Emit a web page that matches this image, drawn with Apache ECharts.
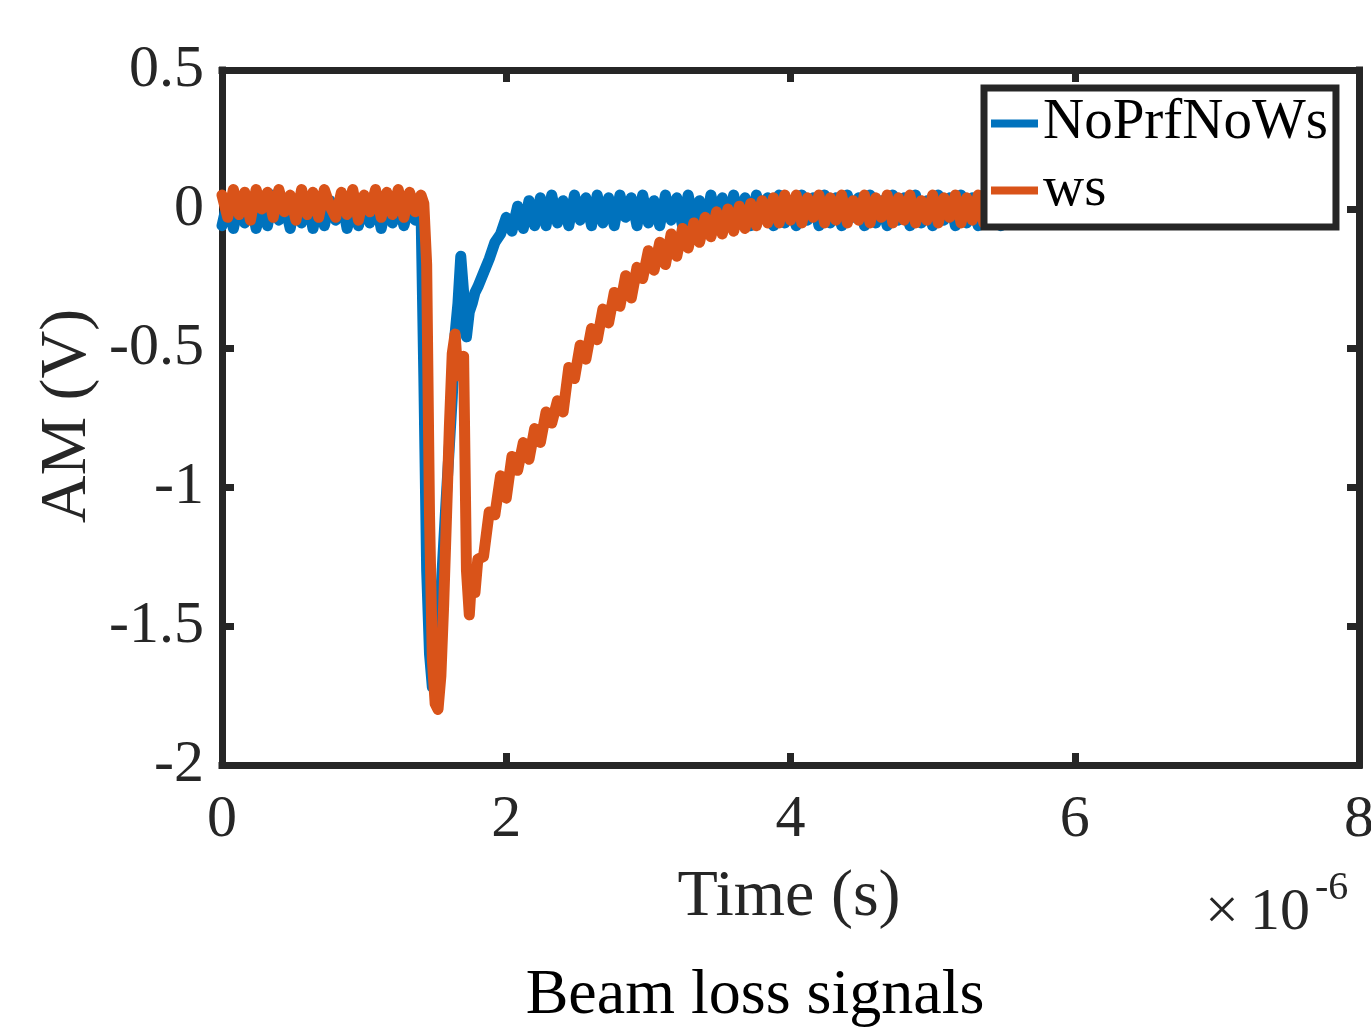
<!DOCTYPE html>
<html>
<head>
<meta charset="utf-8">
<script src="https://cdn.jsdelivr.net/npm/echarts/dist/echarts.min.js"></script>
<style>
  html, body { margin: 0; padding: 0; background: #fff; }
  #main { width: 1371px; height: 1027px; }
</style>
</head>
<body>
<div id="main"></div>
<script>
// time in units of 1e-6 s
var timeUs = [
  0, 0.04, 0.08, 0.12, 0.16, 0.2, 0.24, 0.28, 0.32, 0.36,
  0.4, 0.44, 0.48, 0.52, 0.56, 0.6, 0.64, 0.68, 0.72, 0.76,
  0.8, 0.84, 0.88, 0.92, 0.96, 1.0, 1.04, 1.08, 1.12, 1.16,
  1.2, 1.24, 1.28, 1.32, 1.36, 1.4,
  1.42, 1.44, 1.46, 1.48, 1.5, 1.52, 1.54, 1.56, 1.58, 1.6,
  1.62, 1.64, 1.66, 1.68, 1.7, 1.72, 1.74, 1.76, 1.78, 1.8,
  1.84, 1.88, 1.92, 1.96, 2.0, 2.04, 2.08, 2.12, 2.16, 2.2,
  2.24, 2.28, 2.32, 2.36, 2.4, 2.44, 2.48, 2.52, 2.56, 2.6,
  2.64, 2.68, 2.72, 2.76, 2.8, 2.84, 2.88, 2.92, 2.96, 3.0,
  3.04, 3.08, 3.12, 3.16, 3.2, 3.24, 3.28, 3.32, 3.36, 3.4,
  3.44, 3.48, 3.52, 3.56, 3.6, 3.64, 3.68, 3.72, 3.76, 3.8,
  3.84, 3.88, 3.92, 3.96, 4.0, 4.04, 4.08, 4.12, 4.16, 4.2,
  4.24, 4.28, 4.32, 4.36, 4.4, 4.44, 4.48, 4.52, 4.56, 4.6,
  4.64, 4.68, 4.72, 4.76, 4.8, 4.84, 4.88, 4.92, 4.96, 5.0,
  5.04, 5.08, 5.12, 5.16, 5.2, 5.24, 5.28, 5.32, 5.36, 5.4,
  5.44, 5.48, 5.52, 5.56, 5.6
];

// NoPrfNoWs (V)
var noPrfNoWs = [
  -0.06, 0.03, -0.07, 0.02, -0.05, 0.04, -0.07, 0.01, -0.06, 0.05,
  -0.04, 0.02, -0.07, 0.03, -0.05, 0.04, -0.07, 0.02, -0.06, 0.03,
  -0.04, 0.04, -0.07, 0.01, -0.06, 0.03, -0.05, 0.04, -0.07, 0.02,
  -0.05, 0.03, -0.06, 0.02, -0.04, 0.01,
  -0.60, -1.30, -1.60, -1.72, -1.70, -1.55, -1.38, -1.20, -1.02, -0.85,
  -0.68, -0.45, -0.34, -0.17, -0.30, -0.46, -0.37, -0.34, -0.30, -0.28,
  -0.23, -0.18, -0.12, -0.09, -0.03, -0.08, 0.01, -0.07, 0.03, -0.06,
  0.04, -0.06, 0.05, -0.05, 0.03, -0.06, 0.05, -0.04, 0.04, -0.06,
  0.05, -0.05, 0.04, -0.06, 0.05, -0.03, 0.04, -0.06, 0.05, -0.05,
  0.03, -0.06, 0.05, -0.04, 0.04, -0.06, 0.05, -0.05, 0.03, -0.06,
  0.05, -0.04, 0.04, -0.06, 0.05, -0.05, 0.04, -0.06, 0.05, -0.03,
  0.04, -0.06, 0.05, -0.05, 0.03, -0.06, 0.05, -0.04, 0.04, -0.06,
  0.05, -0.05, 0.04, -0.06, 0.05, -0.03, 0.04, -0.06, 0.05, -0.05,
  0.03, -0.06, 0.05, -0.04, 0.04, -0.06, 0.05, -0.05, 0.03, -0.06,
  0.05, -0.04, 0.04, -0.06, 0.05, -0.05, 0.04, -0.06, 0.05, -0.03,
  0.04, -0.06, 0.05, -0.05, 0.03
];

// ws (V)
var ws = [
  0.05, -0.03, 0.07, -0.02, 0.06, -0.04, 0.07, 0.00, 0.06, -0.03,
  0.07, -0.01, 0.05, -0.04, 0.07, -0.02, 0.06, -0.03, 0.07, 0.01,
  -0.03, 0.06, -0.02, 0.07, -0.04, 0.05, -0.01, 0.07, -0.03, 0.06,
  -0.02, 0.07, -0.03, 0.06, -0.01, 0.05,
  0.02, -0.20, -1.10, -1.62, -1.78, -1.80, -1.68, -1.42, -1.10, -0.78,
  -0.52, -0.45, -0.60, -0.56, -0.53, -1.30, -1.46, -1.30, -1.38, -1.26,
  -1.25, -1.09, -1.10, -0.96, -1.04, -0.89, -0.94, -0.84, -0.90, -0.79,
  -0.84, -0.73, -0.77, -0.69, -0.73, -0.57, -0.61, -0.49, -0.54, -0.43,
  -0.47, -0.36, -0.41, -0.30, -0.35, -0.24, -0.32, -0.21, -0.25, -0.15,
  -0.22, -0.12, -0.20, -0.09, -0.17, -0.07, -0.14, -0.05, -0.12, -0.03,
  -0.10, -0.01, -0.09, 0.00, -0.08, 0.01, -0.07, 0.02, -0.06, 0.03,
  -0.05, 0.04, -0.05, 0.05, -0.04, 0.05, -0.05, 0.04, -0.03, 0.05,
  -0.05, 0.04, -0.04, 0.05, -0.05, 0.03, -0.04, 0.05, -0.05, 0.04,
  -0.03, 0.05, -0.05, 0.04, -0.04, 0.05, -0.05, 0.03, -0.04, 0.05,
  -0.05, 0.04, -0.03, 0.05, -0.05, 0.04, -0.04, 0.05, -0.05, 0.03,
  -0.04, 0.05, -0.05, 0.04, -0.03
];

var xTicks = [0, 8, 2];      // min, max, interval
var yTicks = [-2, 0.5, 0.5]; // min, max, interval

var FONT = 'Liberation Serif';
var AXIS_COLOR = '#262626';

function pairs(ys) {
  return timeUs.map(function (t, i) { return [t, ys[i]]; });
}

var chart = echarts.init(document.getElementById('main'));

function axisBase(showLabel) {
  return {
    type: 'value',
    axisLine: { show: true, onZero: false, lineStyle: { color: AXIS_COLOR, width: 7, cap: 'square' } },
    axisTick: { show: true, inside: true, length: 12, lineStyle: { color: AXIS_COLOR, width: 7 } },
    splitLine: { show: false },
    axisLabel: {
      show: showLabel,
      fontFamily: FONT,
      fontSize: 60,
      color: AXIS_COLOR
    }
  };
}

var xBottom = axisBase(true);
xBottom.position = 'bottom';
xBottom.min = xTicks[0]; xBottom.max = xTicks[1]; xBottom.interval = xTicks[2];
xBottom.axisLabel.margin = 25;
var xTop = axisBase(false);
xTop.position = 'top';
xTop.min = xTicks[0]; xTop.max = xTicks[1]; xTop.interval = xTicks[2];

var yLeft = axisBase(true);
yLeft.position = 'left';
yLeft.min = yTicks[0]; yLeft.max = yTicks[1]; yLeft.interval = yTicks[2];
yLeft.axisLabel.margin = 18;
var yRight = axisBase(false);
yRight.position = 'right';
yRight.min = yTicks[0]; yRight.max = yTicks[1]; yRight.interval = yTicks[2];

var option = {
  animation: false,
  backgroundColor: '#fff',
  grid: { left: 222, right: 12, top: 70, bottom: 262, containLabel: false, outerBoundsMode: 'none' },
  xAxis: [xBottom, xTop],
  yAxis: [yLeft, yRight],
  legend: {
    orient: 'vertical',
    left: 984,
    top: 88,
    padding: [7, 8, 8, 7],
    itemGap: 10,
    itemWidth: 47,
    itemHeight: 8,
    icon: 'rect',
    backgroundColor: '#fff',
    borderColor: AXIS_COLOR,
    borderWidth: 7,
    borderRadius: 0,
    textStyle: { fontFamily: FONT, fontSize: 57, color: '#000' },
    data: ['NoPrfNoWs', 'ws']
  },
  series: [
    {
      name: 'NoPrfNoWs',
      type: 'line',
      data: pairs(noPrfNoWs),
      showSymbol: false,
      symbol: 'none',
      color: '#0072BD',
      lineStyle: { width: 11, color: '#0072BD', cap: 'round', join: 'round' }
    },
    {
      name: 'ws',
      type: 'line',
      data: pairs(ws),
      showSymbol: false,
      symbol: 'none',
      color: '#D95319',
      lineStyle: { width: 11, color: '#D95319', cap: 'round', join: 'round' }
    }
  ],
  graphic: [
    {
      type: 'text', x: 68, y: 416, rotation: Math.PI / 2,
      style: { text: 'AM (V)', font: '66px ' + FONT, fill: AXIS_COLOR, textAlign: 'center', textVerticalAlign: 'middle' }
    },
    {
      type: 'text', x: 789, y: 898,
      style: { text: 'Time (s)', font: '66px ' + FONT, fill: AXIS_COLOR, textAlign: 'center', textVerticalAlign: 'middle' }
    },
    {
      type: 'text', x: 1205, y: 913,
      style: { text: '\u00d7', font: '60px ' + FONT, fill: AXIS_COLOR, textAlign: 'left', textVerticalAlign: 'middle' }
    },
    {
      type: 'text', x: 1250, y: 913,
      style: { text: '10', font: '60px ' + FONT, fill: AXIS_COLOR, textAlign: 'left', textVerticalAlign: 'middle' }
    },
    {
      type: 'text', x: 1315, y: 888,
      style: { text: '-6', font: '40px ' + FONT, fill: AXIS_COLOR, textAlign: 'left', textVerticalAlign: 'middle' }
    },
    {
      type: 'text', x: 755, y: 996,
      style: { text: 'Beam loss signals', font: '64px ' + FONT, fill: '#000', textAlign: 'center', textVerticalAlign: 'middle' }
    }
  ]
};

chart.setOption(option);
</script>
</body>
</html>
